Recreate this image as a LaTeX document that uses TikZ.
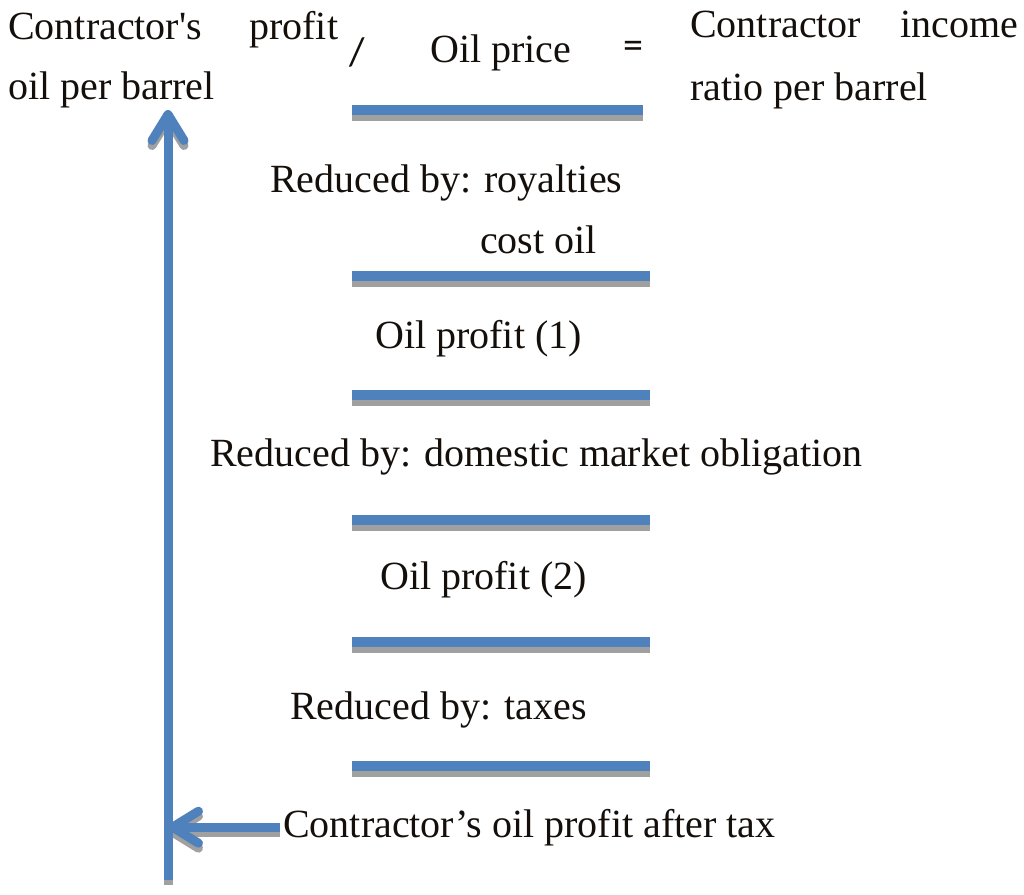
\documentclass[tikz,border=0pt]{standalone}
\usepackage{fontspec}
\setmainfont{Liberation Serif}
\newfontfamily\symfont{Carlito}
\usetikzlibrary{arrows.meta,shadows}
\definecolor{BarBlue}{RGB}{79, 129, 189}
\definecolor{ShadowGray}{RGB}{160, 160, 160}
\definecolor{TextDark}{RGB}{20, 15, 10}

\begin{document}
\begin{tikzpicture}[
    x=1pt, y=-1pt,
    txt/.style={anchor=base west, inner sep=0pt, text=TextDark, font=\fontsize{40}{48}\selectfont},
    sym/.style={inner sep=0pt, text=TextDark, font=\symfont\fontsize{40}{48}\selectfont},
    bar/.style={anchor=north west, inner sep=0pt, minimum width=298pt, minimum height=10pt, fill=BarBlue,
      drop shadow={shadow xshift=0pt, shadow yshift=-6pt, fill=ShadowGray, opacity=1}},
    flow/.style={-{Straight Barb[length=26pt, width=32pt, round]}, line width=9pt, draw=BarBlue}
  ]
    \useasboundingbox (0,0) rectangle (1024,894);

    % top line: profit oil / oil price = income ratio
    \node[txt] (profit1) at (8,39) {\makebox[330pt][s]{Contractor\textquotesingle s profit}};
    \node[txt] (profit2) at (8,99) {oil per barrel};
    \node[sym] (slash) at (357,52) {/};
    \node[txt] (price) at (430,62) {Oil price};
    \node[sym] (equals) at (633,50) {=};
    \node[txt] (ratio1) at (690,37) {\makebox[328pt][s]{Contractor income}};
    \node[txt] (ratio2) at (690,100) {ratio per barrel};
    \node[bar, minimum width=291pt] (bar1) at (352,105) {};

    % deductions
    \node[txt] (royal) at (270,192) {Reduced by: royalties};
    \node[txt] (cost) at (480,253) {cost oil};
    \node[bar] (bar2) at (352,271) {};
    \node[txt] (profitA) at (375,348) {Oil profit (1)};
    \node[bar] (bar3) at (352,390) {};
    \node[txt] (dmo) at (210,466) {Reduced by: domestic market obligation};
    \node[bar] (bar4) at (352,515) {};
    \node[txt] (profitB) at (380,589) {Oil profit (2)};
    \node[bar] (bar5) at (352,637) {};
    \node[txt] (taxes) at (290,719) {Reduced by: taxes};
    \node[bar] (bar6) at (352,761) {};
    \node[txt] (after) at (283,837) {Contractor’s oil profit after tax};

    % feedback arrows, gray shadow first
    \coordinate (vbase) at (168,880);
    \coordinate (vtip) at (168,110);
    \coordinate (hit) at (vbase |- after.west);
    \begin{scope}[transform canvas={yshift=-5pt}]
      \draw[flow, draw=ShadowGray] (vbase) -- (vtip);
      \draw[flow, draw=ShadowGray] ([xshift=-3pt]after.west) -- (hit);
    \end{scope}
    \draw[flow] (vbase) -- (vtip);
    \draw[flow] ([xshift=-3pt]after.west) -- (hit);
  \end{tikzpicture}
\end{document}
